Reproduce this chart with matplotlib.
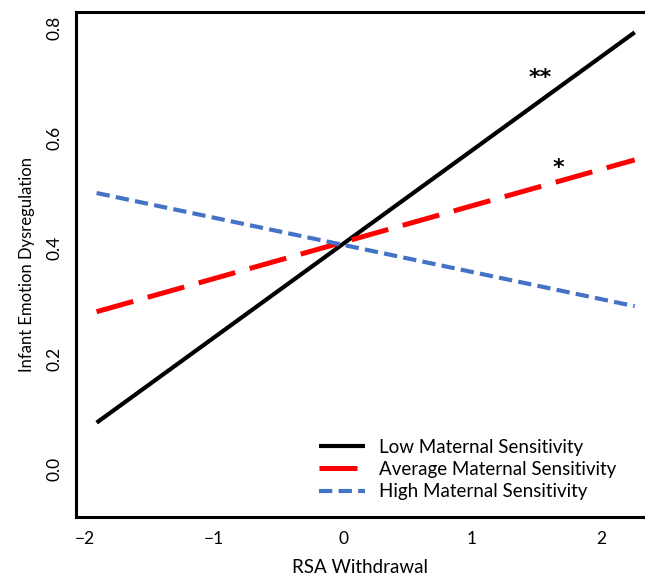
import matplotlib
matplotlib.use("Agg")
import matplotlib.pyplot as plt

# data
rsa = [-1.91, 2.26]
lowSens = [0.084, 0.791]
avgSens = [0.285, 0.560]
highSens = [0.500, 0.295]
labels = ["Low Maternal Sensitivity", "Average Maternal Sensitivity", "High Maternal Sensitivity"]
xTicks = [-2, -1, 0, 1, 2]
yTicks = [0.0, 0.2, 0.4, 0.6, 0.8]

plt.rcParams['font.family'] = ['Lato', 'DejaVu Sans']

fig = plt.figure(figsize=(6.45, 5.81), dpi=100)
ax = fig.add_axes([0.1178, 0.110, 0.8822, 0.869])

ax.plot(rsa, lowSens, color="black", lw=3.0, solid_capstyle="butt", label=labels[0])
ax.plot(rsa, avgSens, color="#ff0000", lw=3.6, dashes=(7.6, 3.0), label=labels[1])
ax.plot(rsa, highSens, color="#4472c4", lw=3.0, dashes=(3.2, 1.5), label=labels[2])

# significance stars
ax.text(1.53, 0.708, "**", fontsize=16, ha="center", va="center", fontweight="bold", family="DejaVu Sans")
ax.text(1.67, 0.545, "*", fontsize=16, ha="center", va="center", fontweight="bold", family="DejaVu Sans")

ax.set_xlim(-2.07, 2.34)
ax.set_ylim(-0.087, 0.8275)
ax.set_xticks(xTicks)
ax.set_xticklabels(["\u22122", "\u22121", "0", "1", "2"])
ax.set_yticks(yTicks)
ax.set_yticklabels(["0.0", "0.2", "0.4", "0.6", "0.8"], rotation=90, va="center")
ax.tick_params(length=0, labelsize=12.5, pad=10)

for side in ["left", "bottom", "top"]:
    ax.spines[side].set_linewidth(2.2)
ax.spines["right"].set_visible(False)

ax.set_xlabel("RSA Withdrawal", fontsize=13.5, labelpad=9)
ax.set_ylabel("Infant Emotion Dysregulation", fontsize=12, labelpad=8)

ax.legend(loc="lower right", frameon=False, fontsize=13.5, handlelength=2.45,
          handletextpad=0.75, labelspacing=0.28, bbox_to_anchor=(0.979, 0.0))

fig.savefig("out.png", dpi=100)
